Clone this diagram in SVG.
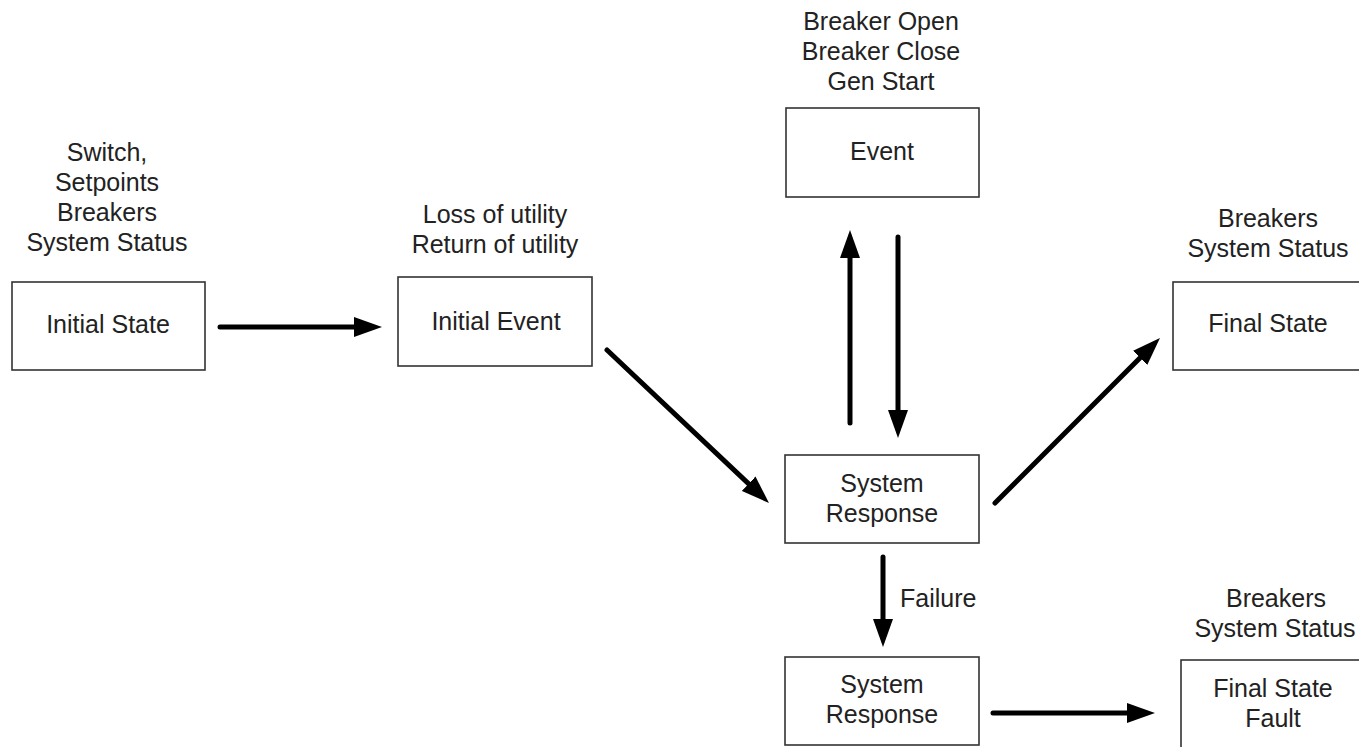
<svg xmlns="http://www.w3.org/2000/svg" width="1359" height="747" viewBox="0 0 1359 747">
<style>
text{font-family:"Liberation Sans",Arial,sans-serif;font-size:25px;fill:#222;text-anchor:middle}
.box{fill:#fff;stroke:#333;stroke-width:1.6}
.conn{stroke:#000;stroke-width:5;stroke-linecap:round;fill:none;marker-end:url(#ah)}
</style>
<defs>
<marker id="ah" viewBox="0 0 28 20" refX="18" refY="10" markerWidth="28" markerHeight="20" markerUnits="userSpaceOnUse" orient="auto">
<path d="M0,0 L28,10 L0,20 z" fill="#000"/>
</marker>
</defs>
<rect width="1359" height="747" fill="#fff"/>
<g id="initial-state">
<text x="107" y="161">Switch,</text>
<text x="107" y="191">Setpoints</text>
<text x="107" y="221">Breakers</text>
<text x="107" y="251">System Status</text>
<rect class="box" x="12" y="282" width="193" height="88"/>
<text x="108" y="333">Initial State</text>
</g>
<g id="initial-event">
<text x="495" y="223">Loss of utility</text>
<text x="495" y="253">Return of utility</text>
<rect class="box" x="398" y="277" width="194" height="89"/>
<text x="496" y="330">Initial Event</text>
</g>
<g id="event">
<text x="881" y="30">Breaker Open</text>
<text x="881" y="60">Breaker Close</text>
<text x="881" y="90">Gen Start</text>
<rect class="box" x="786" y="108" width="193" height="89"/>
<text x="882" y="160">Event</text>
</g>
<g id="final-state">
<text x="1268" y="227">Breakers</text>
<text x="1268" y="257">System Status</text>
<rect class="box" x="1173" y="282" width="193" height="88"/>
<text x="1268" y="332">Final State</text>
</g>
<g id="system-response-1">
<rect class="box" x="785" y="455" width="194" height="88"/>
<text x="882" y="492">System</text>
<text x="882" y="522">Response</text>
</g>
<g id="system-response-2">
<rect class="box" x="785" y="657" width="194" height="88"/>
<text x="882" y="693">System</text>
<text x="882" y="723">Response</text>
</g>
<g id="final-state-fault">
<text x="1276" y="607">Breakers</text>
<text x="1275" y="637">System Status</text>
<rect class="box" x="1181" y="660" width="193" height="90"/>
<text x="1273" y="697">Final State</text>
<text x="1273" y="727">Fault</text>
</g>
<g id="connectors">
<line class="conn" x1="220" y1="327" x2="372" y2="327"/>
<line class="conn" x1="607" y1="350" x2="761.7" y2="496.1"/>
<line class="conn" x1="850" y1="423" x2="850" y2="240"/>
<line class="conn" x1="898" y1="237" x2="898" y2="428"/>
<line class="conn" x1="995" y1="503" x2="1152.9" y2="345.1"/>
<line class="conn" x1="883" y1="557" x2="883" y2="637"/>
<line class="conn" x1="993" y1="713" x2="1145" y2="713"/>
<text x="900" y="607" style="text-anchor:start">Failure</text>
</g>
</svg>
